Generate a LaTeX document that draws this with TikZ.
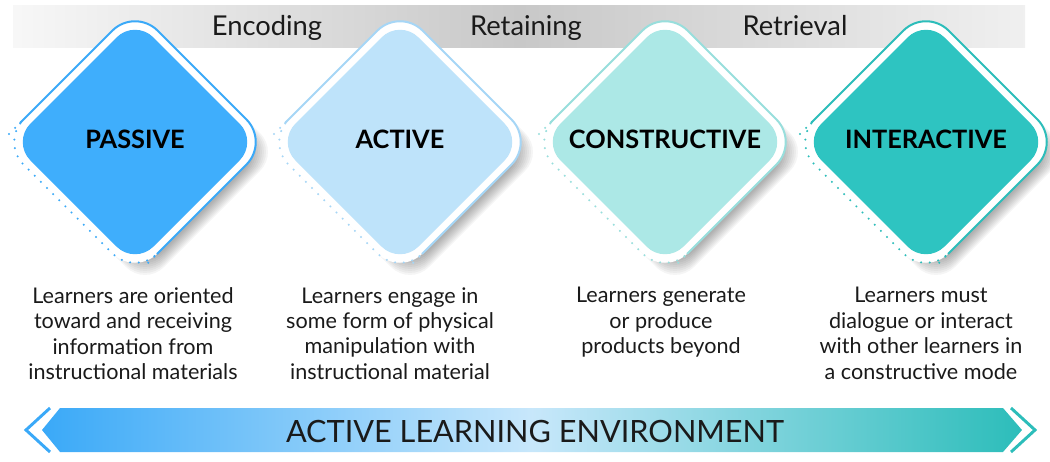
\documentclass[tikz,border=0pt]{standalone}
\usepackage{fontspec}
\setmainfont{Lato}
\usetikzlibrary{positioning}
\usetikzlibrary{calc}
\definecolor{cPassive}{HTML}{3FAEFC}
\definecolor{cActive}{HTML}{BEE3FA}
\definecolor{cConstr}{HTML}{ACE8E6}
\definecolor{cInter}{HTML}{2EC4C1}
\definecolor{lPassive}{HTML}{3AA9F8}
\definecolor{lActive}{HTML}{A6D6F6}
\definecolor{lConstr}{HTML}{98DEDC}
\definecolor{lInter}{HTML}{2CBDBA}
\definecolor{bandGray}{HTML}{C8C8C8}
\definecolor{tDark}{HTML}{1A1A1A}

\begin{document}
\begin{tikzpicture}[x=0.75pt, y=-0.75pt,
    stage/.style = {font=\fontsize{20.5}{22}\selectfont, text=tDark, anchor=base, inner sep=0pt},
    mode/.style = {font=\fontsize{19}{22}\selectfont\bfseries, text=black, anchor=base, inner sep=0pt},
    desc/.style = {font=\fontsize{16.2}{19.1}\selectfont, text=tDark, align=center, anchor=north, inner sep=0pt},
    rim/.style = {line width=1.5pt, rounded corners=24pt},
    dots/.style = {line width=1.7pt, line cap=round, dash pattern=on 0pt off 6.5pt, rounded corners=24pt},
    ]

    \useasboundingbox (0,0) rectangle (1050,461);

    % stage band on top
    \shade[left color=white!97!black, right color=white!94!black, middle color=bandGray]
      (13,5) rectangle (1025,47);

    % #1 centre x, #2 fill colour, #3 line colour
    \def\modebox#1#2#3{
      \foreach \k in {0,...,8}
        \fill[black, opacity=0.04, rounded corners=20pt]
          (#1+10-59-\k, 152-59-\k) -- (#1+10, 152-118-2*\k) -- (#1+10+118+2*\k, 152)
          -- (#1+10, 152+118+2*\k) -- (#1+10-118-2*\k, 152) -- cycle;
      \fill[white, rounded corners=24pt]
        (#1-67, 142-67) -- (#1, 142-134) -- (#1+134, 142) -- (#1, 142+134) -- (#1-134, 142) -- cycle;
      \fill[#2, rounded corners=19.5pt]
        (#1-61.5, 142-61.5) -- (#1, 142-123) -- (#1+123, 142) -- (#1, 142+123) -- (#1-123, 142) -- cycle;
      \draw[rim, #3]
        (#1-134+19, 142-19) -- (#1, 142-134) -- (#1+134, 142) -- (#1+22, 142+112);
      \draw[dots, #3]
        (#1-134+8, 142-8) -- (#1-134, 142) -- (#1, 142+134) -- (#1+11, 142+123);
    }

    \modebox{135}{cPassive}{lPassive}
    \modebox{400}{cActive}{lActive}
    \modebox{665}{cConstr}{lConstr}
    \modebox{926}{cInter}{lInter}

    \node[stage] (enc) at (267,35) {Encoding};
    \node[stage] (ret) at (526,35) {Retaining};
    \node[stage] (rtr) at (795,35) {Retrieval};

    \node[mode] (passive) at (135,148) {PASSIVE};
    \node[mode] (active) at (400,148) {ACTIVE};
    \node[mode] (constructive) at (665,148) {CONSTRUCTIVE};
    \node[mode] (interactive) at (926,148) {INTERACTIVE};

    \node[desc] (passive-d) at (133,287) {Learners are oriented\\toward and receiving\\information from\\instructional materials};
    \node[desc] (active-d) at (390,287) {Learners engage in\\some form of physical\\manipulation with\\instructional material};
    \node[desc] (constructive-d) at (661,287) {Learners generate\\or produce\\products beyond};
    \node[desc] (interactive-d) at (921,287) {Learners must\\dialogue or interact\\with other learners in\\a constructive mode};

    % environment arrow
    \shade[left color=lPassive, right color=lInter, middle color=cActive!85!white]
      (60,408) -- (1003,408) -- (1022,430) -- (1003,452) -- (60,452) -- (42,430) -- cycle;
    \draw[line width=2.2pt, color=lPassive] (50,408) -- (26,430) -- (50,452);
    \draw[line width=2.2pt, color=lInter] (1011,408) -- (1035,430) -- (1011,452);
    \node[font=\fontsize{23}{25}\selectfont, text=tDark, anchor=base, inner sep=0pt] (env) at (535,442) {ACTIVE LEARNING ENVIRONMENT};

  \end{tikzpicture}
\end{document}
